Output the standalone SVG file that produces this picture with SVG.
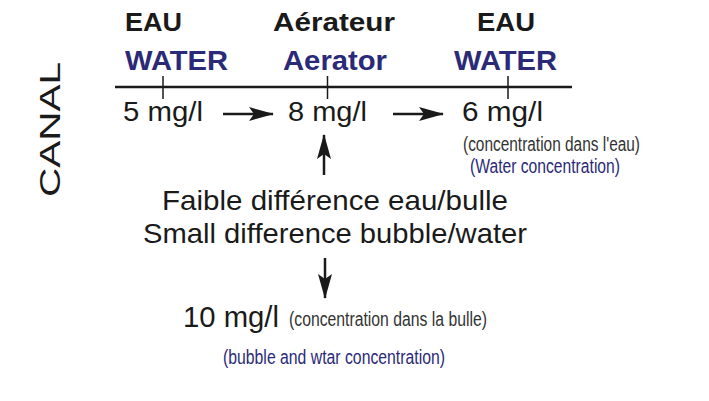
<svg xmlns="http://www.w3.org/2000/svg" width="709" height="401" viewBox="0 0 709 401">
<defs>
<marker id="ah" viewBox="0 0 25 14" refX="24" refY="7" markerWidth="25" markerHeight="14" markerUnits="userSpaceOnUse" orient="auto">
<path d="M0,0 L25,7 L0,14 L5,7 Z" fill="#1a1a1a"/>
</marker>
<style>
text{font-family:"Liberation Sans",Arial,Helvetica,sans-serif;fill:#1a1a1a}
.hd{font-weight:bold;font-size:26px}
.en{font-weight:bold;font-size:28px;fill:#2b2a78}
.val{font-size:27px}
.big{font-size:28px}
.note{font-size:20px;fill:#333}
.noteb{font-size:20px;fill:#2b2a78}
.conn{stroke:#1a1a1a;stroke-width:2.5;fill:none}
.tick{stroke:#1a1a1a;stroke-width:1.5}
</style>
</defs>
<rect width="709" height="401" fill="#ffffff"/>
<g id="canal"><text x="60" y="197" transform="rotate(-90 60 197)" font-size="30" textLength="135" lengthAdjust="spacingAndGlyphs">CANAL</text></g>
<g id="axis">
<line x1="115" y1="87" x2="572" y2="87" stroke="#1a1a1a" stroke-width="2.5"/>
<line class="tick" x1="163" y1="76" x2="163" y2="99"/>
<line class="tick" x1="327.5" y1="76" x2="327.5" y2="99"/>
<line class="tick" x1="508" y1="76" x2="508" y2="99"/>
</g>
<g id="water-in">
<text class="hd" x="125" y="31" textLength="57" lengthAdjust="spacingAndGlyphs">EAU</text>
<text class="en" x="125" y="70" textLength="103" lengthAdjust="spacingAndGlyphs">WATER</text>
<text class="val" x="123" y="121" textLength="80" lengthAdjust="spacingAndGlyphs">5 mg/l</text>
</g>
<g id="aerator">
<text class="hd" x="273" y="31" textLength="122" lengthAdjust="spacingAndGlyphs">Aérateur</text>
<text class="en" x="283" y="70" textLength="104" lengthAdjust="spacingAndGlyphs">Aerator</text>
<text class="val" x="288" y="121" textLength="79" lengthAdjust="spacingAndGlyphs">8 mg/l</text>
</g>
<g id="water-out">
<text class="hd" x="477" y="31" textLength="58" lengthAdjust="spacingAndGlyphs">EAU</text>
<text class="en" x="454" y="70" textLength="103" lengthAdjust="spacingAndGlyphs">WATER</text>
<text class="val" x="462" y="121" textLength="81" lengthAdjust="spacingAndGlyphs">6 mg/l</text>
<text class="note" x="463" y="151" textLength="177" lengthAdjust="spacingAndGlyphs">(concentration dans l'eau)</text>
<text class="noteb" x="470" y="173" textLength="150" lengthAdjust="spacingAndGlyphs">(Water concentration)</text>
</g>
<g id="difference">
<text class="big" x="162" y="210" textLength="346" lengthAdjust="spacingAndGlyphs">Faible différence eau/bulle</text>
<text class="big" x="143" y="243" textLength="384" lengthAdjust="spacingAndGlyphs">Small difference bubble/water</text>
</g>
<g id="bubble">
<text x="183" y="327" font-size="30" textLength="96" lengthAdjust="spacingAndGlyphs">10 mg/l</text>
<text class="note" x="289" y="326" textLength="198" lengthAdjust="spacingAndGlyphs">(concentration dans la bulle)</text>
<text class="noteb" x="223" y="364" textLength="222" lengthAdjust="spacingAndGlyphs">(bubble and wtar concentration)</text>
</g>
<g id="connectors">
<line class="conn" x1="223" y1="114" x2="273" y2="114" marker-end="url(#ah)"/>
<line class="conn" x1="393" y1="114" x2="443" y2="114" marker-end="url(#ah)"/>
<line class="conn" x1="324" y1="175" x2="324" y2="135" marker-end="url(#ah)"/>
<line class="conn" x1="325" y1="258" x2="325" y2="298" marker-end="url(#ah)"/>
</g>
</svg>
